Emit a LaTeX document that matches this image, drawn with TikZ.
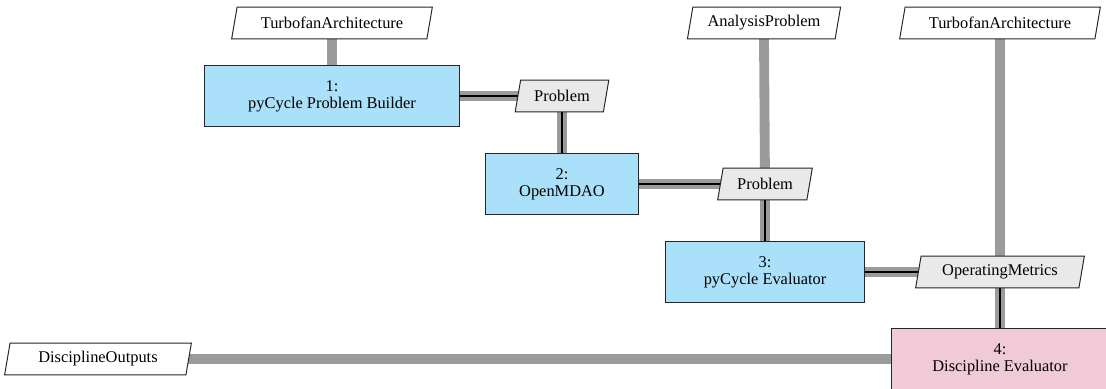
\documentclass[tikz,border=0pt]{standalone}
\usepackage{fontspec}
\setmainfont{Liberation Serif}
\usetikzlibrary{backgrounds}
\pgfdeclarelayer{mid}
\pgfsetlayers{background,mid,main}
\definecolor{fnblue}{RGB}{170,224,249}
\definecolor{evpink}{RGB}{241,202,216}
\definecolor{linegray}{RGB}{155,155,155}
\definecolor{datagray}{RGB}{233,233,233}
\begin{document}
\begin{tikzpicture}[x=0.61pt,y=-0.61pt,
  txt/.style={font=\fontsize{10}{10.5}\selectfont, text=black},
  fnbox/.style={txt, draw=black!85, line width=0.6pt, fill=fnblue, align=center,
    minimum height=37.8pt, inner sep=0pt},
  evbox/.style={fnbox, fill=evpink},
  para/.style={txt, minimum height=18.9pt, inner sep=0pt},
  paraedge/.style={draw=black!85, line width=0.6pt, line join=miter},
  gline/.style={draw=linegray, line width=6pt},
  bline/.style={draw=black, line width=1.7pt}
]
\useasboundingbox (0,0) rectangle (1106,389);
% inputs
\node[para, minimum width=118.7pt] (ta1) at (332,23) {TurbofanArchitecture};
\node[para, minimum width=89.7pt] (ap) at (764,23) {AnalysisProblem};
\node[para, minimum width=118.7pt] (ta2) at (1000,23) {TurbofanArchitecture};
\node[para, minimum width=110.2pt] (do) at (98,359) {DisciplineOutputs};
% functions
\node[fnbox, minimum width=155.6pt] (b1) at (332,96) {1:\\pyCycle Problem Builder};
\node[fnbox, minimum width=93.9pt] (b2) at (562,184) {2:\\OpenMDAO};
\node[fnbox, minimum width=121.4pt] (b3) at (765,272) {3:\\pyCycle Evaluator};
\node[evbox, minimum width=133pt] (b4) at (1000,359) {4:\\Discipline Evaluator};
% data
\node[para, minimum width=53.4pt] (p1) at (562,96) {Problem};
\node[para, minimum width=54pt] (p2) at (765,184) {Problem};
\node[para, minimum width=99.2pt] (om) at (1000,272) {OperatingMetrics};
% parallelogram outlines
\begin{pgfonlayer}{mid}
  \foreach \n/\f in {ta1/white,ap/white,ta2/white,do/white,p1/datagray,p2/datagray,om/datagray}{
    \path[paraedge, fill=\f] ([xshift=-1.65pt]\n.south west) -- ([xshift=-1.65pt]\n.south east)
      -- ([xshift=1.65pt]\n.north east) -- ([xshift=1.65pt]\n.north west) -- cycle;
  }
\end{pgfonlayer}
\begin{pgfonlayer}{background}
  \draw[gline] (ta1.center) -- (b1.center);
  \draw[gline] (b1.center) -- (p1.center) -- (b2.center);
  \draw[gline] (b2.center) -- (p2.center) -- (b3.center);
  \draw[gline] (ap.center |- ap.south) -- (p2.center);
  \draw[gline] (b3.center) -- (om.center) -- (b4.center);
  \draw[gline] (ta2.center) -- (om.center);
  \draw[gline] (do.center) -- (b4.center);
  \draw[bline] (b1.center) -- (p1.center) -- (b2.center);
  \draw[bline] (b2.center) -- (p2.center) -- (b3.center);
  \draw[bline] (b3.center) -- (om.center) -- (b4.center);
\end{pgfonlayer}
\end{tikzpicture}
\end{document}
